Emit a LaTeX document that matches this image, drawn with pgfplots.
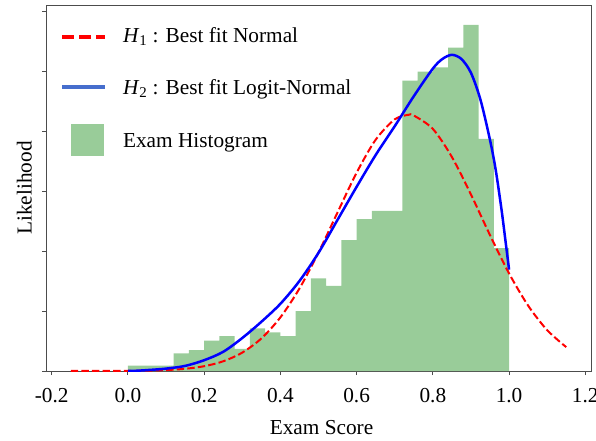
\documentclass[border=0pt]{standalone}
\usepackage{pgfplots}
\pgfplotsset{compat=1.18}
\usepackage{fontspec}
\setmainfont{Liberation Serif}
\newcommand{\fsz}{\fontsize{21.3pt}{25pt}\selectfont}
\definecolor{histg}{RGB}{153,204,153}
\definecolor{legblue}{RGB}{70,110,205}
\begin{document}
\begin{tikzpicture}
\useasboundingbox (0,0) rectangle (596pt,440pt);
\begin{axis}[
  at={(46pt,69pt)}, anchor=south west,
  scale only axis, width=545pt, height=366pt,
  xmin=-0.215, xmax=1.215, ymin=0, ymax=6.1,
  xtick={-0.2,0,0.2,0.4,0.6,0.8,1.0,1.2},
  xticklabels={-0.2,0.0,0.2,0.4,0.6,0.8,1.0,1.2},
  ytick={0,1,2,3,4,5,6}, yticklabels={},
  tick align=outside, tick pos=left, major tick length=4pt,
  axis line style={black!70, line width=1pt},
  every tick/.style={black!70, line width=1pt},
  tick label style={font=\fsz},
  xticklabel style={yshift=-9.5pt},
  /pgf/number format/assume math mode=true,
  xlabel={Exam Score},
  xlabel style={at={(axis description cs:0.5,0)}, anchor=base, yshift=-63pt, xshift=3pt, font=\fsz},
  ylabel={Likelihood},
  ylabel style={at={(axis description cs:-0.02624,0.5)}, anchor=base, rotate=0, font=\fsz},
  legend style={draw=none, fill=none, at={(axis description cs:0,1)}, anchor=north west,
    xshift=14pt, yshift=-0.3pt, inner sep=0pt, outer sep=0pt, row sep=14.5pt,
    font=\fsz, nodes={inner sep=0pt},
    /tikz/every odd column/.append style={column sep=16pt}},
  legend cell align=left,
]
\addplot[ybar interval, fill=histg, draw=none, forget plot] coordinates {
(0.00,0.09) (0.04,0.09) (0.08,0.09) (0.12,0.295) (0.16,0.35) (0.20,0.505)
(0.24,0.58) (0.28,0.37) (0.32,0.71) (0.36,0.645) (0.40,0.58) (0.44,1.00)
(0.48,1.545) (0.52,1.42) (0.56,2.18) (0.60,2.53) (0.64,2.67) (0.68,2.67)
(0.72,4.84) (0.76,4.99) (0.80,5.06) (0.84,5.39) (0.88,5.77) (0.92,3.87)
(0.96,2.05) (1.00,2.05)};
\addplot[red, line width=2pt, dash pattern=on 7.4pt off 3.2pt, smooth, forget plot] coordinates {
(-0.15,0.0001) (-0.1,0.0003) (-0.05,0.0008) (0,0.0024) (0.05,0.0063) (0.1,0.0157)
(0.15,0.0367) (0.2,0.0798) (0.25,0.162) (0.3,0.307) (0.35,0.542) (0.4,0.894)
(0.45,1.375) (0.5,1.975) (0.55,2.644) (0.6,3.305) (0.65,3.855) (0.7,4.194)
(0.736,4.27) (0.75,4.258) (0.8,4.035) (0.85,3.567) (0.9,2.942) (0.95,2.264)
(1.0,1.626) (1.05,1.090) (1.1,0.681) (1.15,0.398)};
\addplot[blue, line width=2.5pt, smooth, forget plot] coordinates {
(0,0) (0.025,0.005) (0.05,0.015) (0.1,0.04) (0.15,0.085) (0.2,0.18) (0.25,0.32)
(0.3,0.55) (0.35,0.82) (0.4,1.12) (0.45,1.5) (0.5,1.97) (0.55,2.52) (0.6,3.07)
(0.65,3.6) (0.7,4.08) (0.75,4.58) (0.8,5.04) (0.825,5.2) (0.85,5.27) (0.875,5.2)
(0.9,4.97) (0.925,4.52) (0.95,3.85) (0.965,3.35) (0.98,2.7) (0.99,2.2) (1.0,1.69)};
\addlegendimage{legend image code/.code={\path[draw=none,fill=none] (0pt,-6pt) rectangle (43pt,25pt);
  \draw[red, line width=3.5pt, dash pattern=on 11.5pt off 5.5pt] (0pt,-6.5pt) -- (43pt,-6.5pt);}}
\addlegendentry{\rule[-6pt]{0pt}{31pt}\textit{H}\textsubscript{1} : Best fit Normal}
\addlegendimage{legend image code/.code={\path[draw=none,fill=none] (0pt,-6pt) rectangle (43pt,25pt);
  \draw[legblue, line width=4pt] (0pt,-4pt) -- (43pt,-4pt);}}
\addlegendentry{\rule[-6pt]{0pt}{31pt}\textit{H}\textsubscript{2} : Best fit Logit-Normal}
\addlegendimage{legend image code/.code={\path[draw=none,fill=none] (0pt,-6pt) rectangle (43pt,25pt);
  \fill[histg] (9pt,-19pt) rectangle (41pt,12pt);}}
\addlegendentry{\rule[-6pt]{0pt}{31pt}Exam Histogram}
\end{axis}
\end{tikzpicture}
\end{document}
